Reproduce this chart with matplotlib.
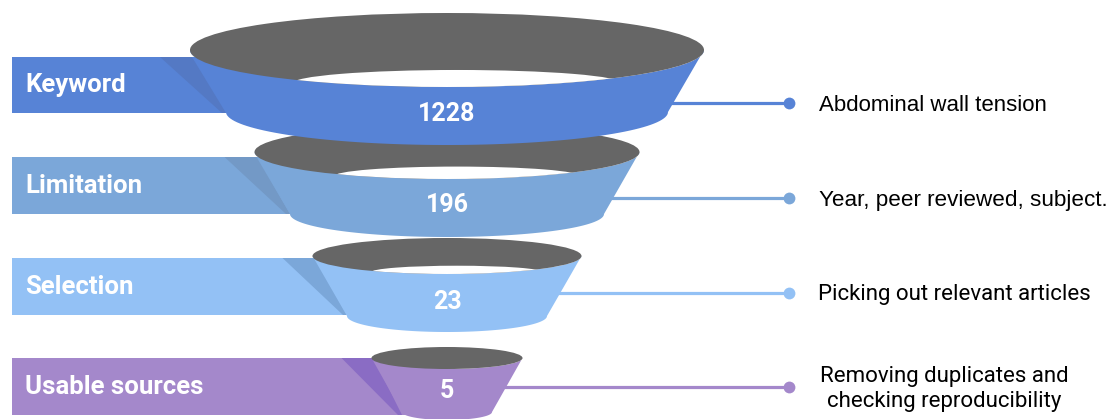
import numpy as np
import matplotlib
matplotlib.use("Agg")
import matplotlib.pyplot as plt
from matplotlib.patches import Polygon, Ellipse, Rectangle

plt.rcParams['font.family'] = ['Roboto', 'DejaVu Sans']

# funnel stages, counts and notes
stages = ["Keyword", "Limitation", "Selection", "Usable sources"]
counts = [1228, 196, 23, 5]
notes = ["Abdominal wall tension",
         "Year, peer reviewed, subject.",
         "Picking out relevant articles",
         "Removing duplicates and\nchecking reproducibility"]

colors = ["#5783D6", "#7BA7D9", "#93C1F5", "#A488CB"]
wedge_colors = ["#5479C4", "#7399C6", "#7BA7D9", "#8A6CC4"]
gray = "#666666"

# ring geometry in pixels (top rim ellipse, bottom ellipse)
cx = 447
top_cy = [50, 152, 256, 358]
top_rx = [257, 192.5, 134.5, 75.5]
top_ry = [37, 27, 18, 11]
bot_cy = [112, 214, 316, 412]
bot_rx = [221, 157, 100, 45]
bot_ry = [33, 23, 16, 8]
bar_top = [57, 157, 258, 358]
bar_bot = [113, 214, 315, 415]
line_y = [103, 198, 293, 387]
num_y = [114, 205, 302, 391]
has_hole = [True, True, True, False]

W, H = 1113, 419
fig = plt.figure(figsize=(W / 100, H / 100), dpi=100)
ax = fig.add_axes([0, 0, 1, 1])
ax.set_xlim(0, W)
ax.set_ylim(H, 0)
ax.axis("off")


def arc(x0, y0, rx, ry, t0, t1, n=80):
    t = np.linspace(t0, t1, n)
    return np.column_stack([x0 + rx * np.cos(t), y0 + ry * np.sin(t)])


dot_x = 789
for i in range(3, -1, -1):
    z = 10 * (4 - i)
    c = colors[i]

    # label bar on the left
    ax.add_patch(Rectangle((12, bar_top[i]), cx - 12, bar_bot[i] - bar_top[i],
                           color=c, lw=0, zorder=z + 1))
    lx = cx - top_rx[i]
    ax.add_patch(Polygon([(lx - 30, bar_top[i]), (lx + 2, bar_top[i]),
                          (cx - bot_rx[i], bar_bot[i]), (cx - bot_rx[i] - 4, bar_bot[i])],
                         closed=True, color=wedge_colors[i], lw=0, zorder=z + 2))
    ax.text(25, (bar_top[i] + bar_bot[i]) / 2, stages[i], color="white",
            fontsize=18.5, fontweight="bold", va="center", ha="left", zorder=z + 2)

    # connector line and dot
    frac = (line_y[i] - top_cy[i]) / (bot_cy[i] - top_cy[i])
    sx = cx + top_rx[i] + frac * (bot_rx[i] - top_rx[i])
    ax.plot([sx - 5, dot_x], [line_y[i], line_y[i]], color=c, lw=2.3,
            solid_capstyle="butt", zorder=z + 1)
    ax.plot(dot_x, line_y[i], "o", ms=8.5, color=c, mec="none", zorder=z + 1)

    # funnel body
    pts = np.vstack([arc(cx, top_cy[i], top_rx[i], top_ry[i], np.pi, 0),
                     arc(cx, bot_cy[i], bot_rx[i], bot_ry[i], 0, np.pi)])
    ax.add_patch(Polygon(pts, closed=True, color=c, lw=0, zorder=z + 3))

    # rim and inner opening
    rim = Ellipse((cx, top_cy[i]), 2 * top_rx[i], 2 * top_ry[i],
                  color=gray, lw=0, zorder=z + 4)
    ax.add_patch(rim)
    if has_hole[i]:
        hole = Ellipse((cx + 10, top_cy[i] + 0.9 * top_ry[i]),
                       2 * 0.64 * top_rx[i], 2 * 0.36 * top_ry[i],
                       color="white", lw=0, zorder=z + 5)
        ax.add_patch(hole)
        hole.set_clip_path(rim)

    ax.text(cx, num_y[i], str(counts[i]), color="white", fontsize=18,
            fontweight="bold", ha="center", va="center", zorder=z + 6)

# notes on the right
ax.text(819, line_y[0] + 2, notes[0], fontsize=16, family=["Liberation Sans"],
        va="center", ha="left", color="black")
ax.text(819, line_y[1] + 2, notes[1], fontsize=16.2, family=["Liberation Sans"],
        va="center", ha="left", color="black")
ax.text(818, line_y[2] + 1, notes[2], fontsize=16, va="center", ha="left", color="black")
ax.text(944, line_y[3] + 2, notes[3], fontsize=16, va="center", ha="center",
        color="black", linespacing=1.25, multialignment="center")

fig.savefig("out.png", dpi=100)
